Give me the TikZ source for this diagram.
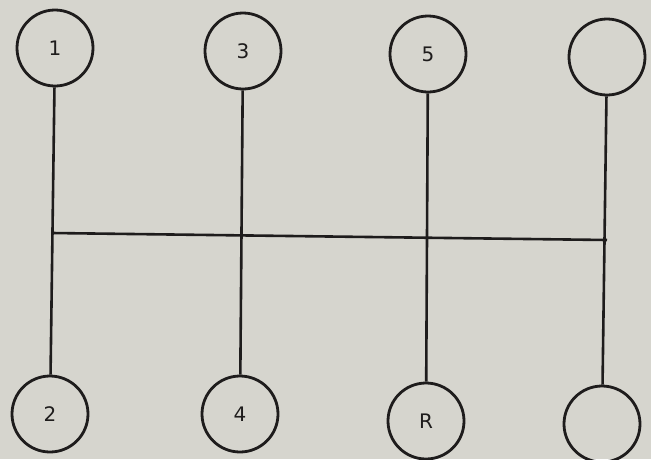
\documentclass[tikz,border=0pt]{standalone}
\usepackage{fontspec}
\setmainfont{DejaVu Sans}
\definecolor{paper}{RGB}{214,213,206}
\definecolor{ink}{RGB}{30,28,28}
\begin{document}
\begin{tikzpicture}[x=1pt,y=-1pt,
  gear/.style={circle,draw=ink,line width=2.8pt,minimum size=76pt,inner sep=0pt,font=\fontsize{20}{20}\selectfont,text=ink},
  rod/.style={draw=ink,line width=2.6pt}]
\fill[paper] (0,0) rectangle (651,459);
\useasboundingbox (0,0) rectangle (651,459);
\node[gear] (g1) at (55,48) {1};
\node[gear] (g3) at (243,51) {3};
\node[gear] (g5) at (428,54) {5};
\node[gear] (g7) at (607,57) {};
\node[gear] (g2) at (50,414) {2};
\node[gear] (g4) at (240,414) {4};
\node[gear] (gR) at (426,421) {R};
\node[gear] (g8) at (602,424) {};
\coordinate (hl) at (52,233);
\coordinate (hr) at (607,240);
\draw[rod] (g1) -- (g2);
\draw[rod] (g3) -- (g4);
\draw[rod] (g5) -- (gR);
\draw[rod] (g7) -- (g8);
\draw[rod] (hl) -- (hr);
\end{tikzpicture}
\end{document}
